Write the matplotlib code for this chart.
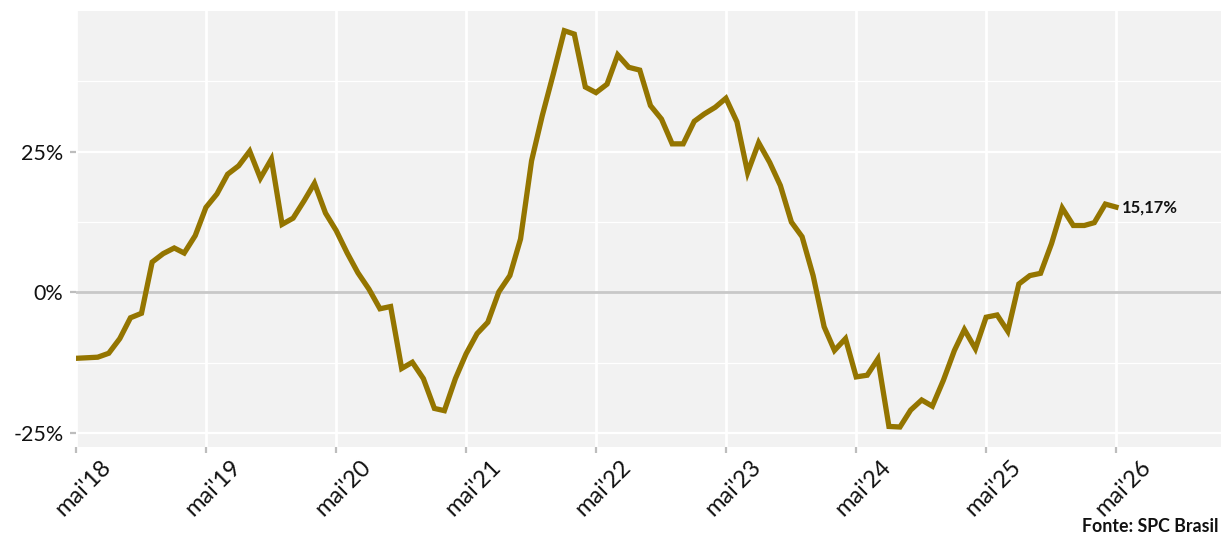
import matplotlib
matplotlib.use("Agg")
import matplotlib.pyplot as plt
import matplotlib.dates as mdates
import matplotlib.transforms as mtransforms
import pandas as pd
from matplotlib.ticker import FixedLocator, FuncFormatter

# monthly variation, mai/2018 .. mai/2026 (%)
values = [
    -11.7, -11.6, -11.5, -10.8, -8.2, -4.5, -3.7, 5.4, 6.9, 7.9, 7.0, 10.1,
    15.1, 17.5, 21.0, 22.5, 25.1, 20.3, 23.7, 12.1, 13.2, 16.3, 19.4, 14.1,
    11.0, 7.0, 3.5, 0.6, -2.9, -2.5, -13.5, -12.4, -15.3, -20.6, -21.0, -15.3,
    -10.9, -7.3, -5.3, 0.1, 3.0, 9.5, 23.4, 31.4, 38.8, 46.5, 45.9, 36.5,
    35.5, 37.0, 42.2, 40.0, 39.5, 33.2, 30.8, 26.4, 26.4, 30.4, 31.7, 32.9,
    34.5, 30.3, 21.3, 26.6, 23.1, 19.0, 12.5, 9.9, 3.0, -6.1, -10.3, -8.2,
    -15.0, -14.7, -11.8, -23.8, -23.9, -20.9, -19.1, -20.2, -15.6, -10.3, -6.6, -10.0,
    -4.4, -4.0, -6.9, 1.5, 3.0, 3.4, 8.7, 15.0, 11.9, 11.9, 12.4, 15.7,
    15.17,
]
dates = pd.date_range("2018-05-01", periods=len(values), freq="MS")
tick_dates = pd.date_range("2018-05-01", "2026-05-01", freq="12MS")
tick_labels = ["mai'%02d" % (d.year % 100) for d in tick_dates]
last_label = "15,17%"
source = "Fonte: SPC Brasil"

LINE = "#947500"
PANEL = "#F2F2F2"

plt.rcParams['font.family'] = ['Lato', 'DejaVu Sans']

fig = plt.figure(figsize=(12.21, 5.34), dpi=100)
ax = fig.add_axes([76 / 1221, 1 - 446.7 / 534, 1 - 76 / 1221, (446.7 - 11) / 534])
ax.set_facecolor(PANEL)
for s in ax.spines.values():
    s.set_visible(False)

# grid
for y in [-12.5, 12.5, 37.5]:
    ax.axhline(y, color="white", lw=0.9, zorder=1)
for y in [-25, 25]:
    ax.axhline(y, color="white", lw=1.6, zorder=1)
for d in tick_dates:
    ax.axvline(d, color="white", lw=2.0, zorder=1)
ax.axhline(0, color="#C8C8C8", lw=2.0, zorder=2)

ax.plot(dates, values, color=LINE, lw=3.8, solid_joinstyle="miter", zorder=3)
ax.annotate(last_label, (dates[-1], values[-1]), xytext=(4.5, 0), textcoords="offset points",
            ha="left", va="center", fontsize=12, fontweight="bold", color="#111111")

x0 = mdates.date2num(dates[0])
x_tick_end = mdates.date2num(tick_dates[-1])
xr = x0 + (x_tick_end - x0) * (1221 - 76) / (1116 - 76)
ax.set_xlim(x0, xr)
ax.set_ylim(-27.4, 50.0)

ax.set_xticks(tick_dates)
ax.set_xticklabels(tick_labels, rotation=45, ha="right", rotation_mode="anchor")
ax.yaxis.set_major_locator(FixedLocator([-25, 0, 25]))
ax.yaxis.set_major_formatter(FuncFormatter(lambda v, p: "%d%%" % v))
ax.tick_params(axis="both", colors="#BDBDBD", labelcolor="#111111",
               length=4.5, width=1.6)
ax.tick_params(axis="x", pad=2.5, labelsize=17)
ax.tick_params(axis="y", pad=4.5, labelsize=15.5)

shift = mtransforms.ScaledTranslation(24 / 100, 0, fig.dpi_scale_trans)
for lab in ax.get_xticklabels():
    lab.set_transform(lab.get_transform() + shift)

fig.text(1082 / 1221, 1 - 531.5 / 534, source, ha="left", va="baseline",
         fontsize=12.8, fontweight="bold", color="#111111")

fig.savefig("out.png", dpi=100)
